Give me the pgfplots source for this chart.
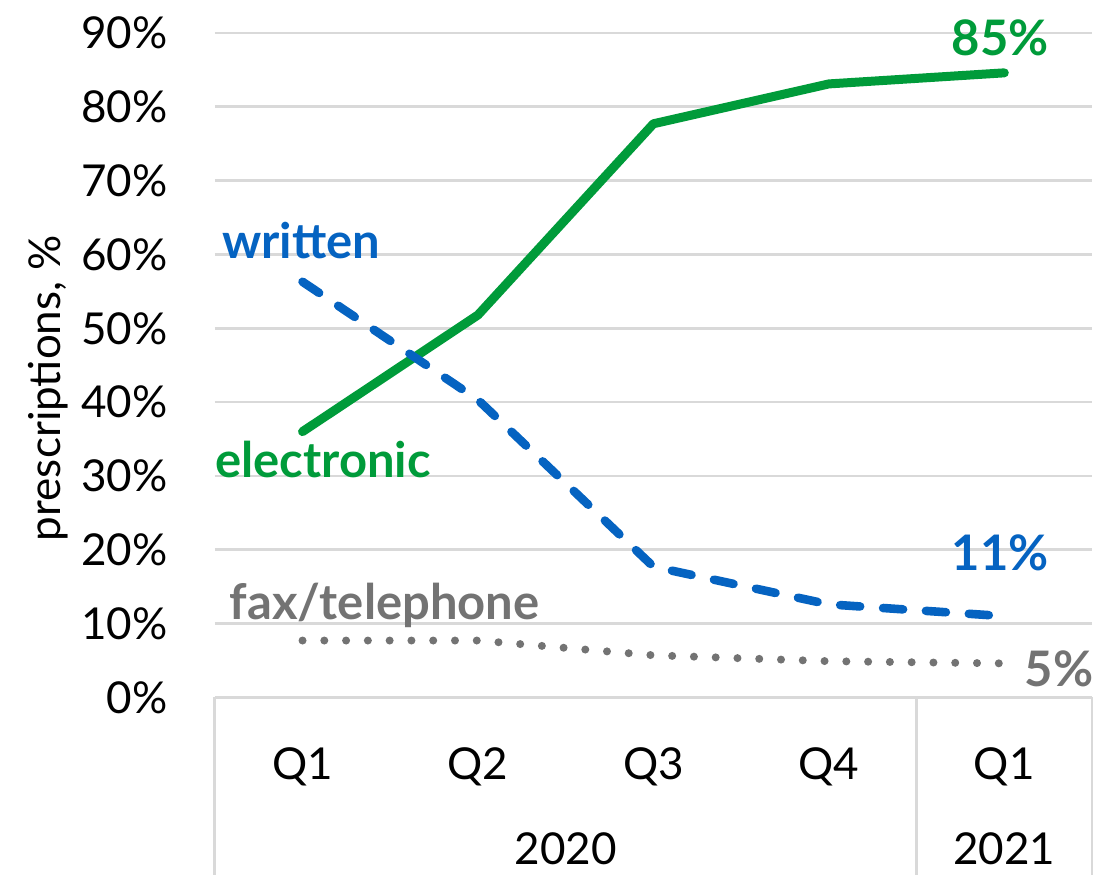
\documentclass[border=0pt]{standalone}
\usepackage{pgfplots}
\pgfplotsset{compat=1.18}
\usepackage{fontspec}
\setmainfont{Lato}
\definecolor{cgreen}{HTML}{009B3A}
\definecolor{cblue}{HTML}{0563C1}
\definecolor{cgray}{HTML}{737373}
\definecolor{gridgray}{HTML}{D9D9D9}
\newcommand{\bigf}{\fontsize{22}{26}\selectfont}
\newcommand{\boldf}{\fontsize{24.5}{28}\selectfont\bfseries}
\begin{document}
\begin{tikzpicture}
\useasboundingbox (-107.5pt,-89pt) rectangle (451.5pt,349pt);
\begin{axis}[at={(0,0)}, anchor=south west, scale only axis,
  width=439pt, height=332.5pt,
  xmin=-0.5, xmax=4.5, ymin=0, ymax=90,
  ytick={0,10,...,90}, xtick=\empty,
  yticklabel={\pgfmathprintnumber{\tick}\%},
  /pgf/number format/assume math mode=true,
  axis line style={draw=none}, major tick length=0pt,
  ymajorgrids, grid style={line width=1.4pt, color=gridgray},
  yticklabel style={font=\bigf, inner sep=0pt, anchor=east, xshift=-23.5pt},
  clip=false]
\addplot[cgreen, line width=4.5pt, line cap=round, line join=round] coordinates {(0,36.0) (1,51.8) (2,77.7) (3,83.1) (4,84.6)};
\addplot[cblue, line width=4.3pt, line cap=round, dash pattern=on 10pt off 11.5pt] coordinates {(0,56.3) (1,40.3) (2,17.7) (3,12.6) (4,11.0)};
\addplot[cgray, line width=4pt, line cap=round, dash pattern=on 0pt off 10.9pt] coordinates {(0,7.7) (1,7.7) (2,5.7) (3,4.9) (4,4.6)};
% labels
\node[anchor=base west, inner sep=0pt, font=\boldf, text=cblue] at (axis cs:-0.46,59.5) {written};
\node[anchor=base west, inner sep=0pt, font=\boldf, text=cgreen] at (axis cs:-0.5,29.8) {electronic};
\node[anchor=base west, inner sep=0pt, font=\boldf, text=cgray] at (axis cs:-0.416,10.6) {fax/telephone};
\node[anchor=base east, inner sep=0pt, font=\boldf, text=cgreen] at (axis cs:4.256,87.0) {85\%};
\node[anchor=base east, inner sep=0pt, font=\boldf, text=cblue] at (axis cs:4.256,17.2) {11\%};
\node[anchor=base east, inner sep=0pt, font=\boldf, text=cgray] at (axis cs:4.51,1.5) {5\%};
% y label
\node[rotate=90, font=\bigf, inner sep=0pt] at ([xshift=-83.5pt]axis cs:-0.5,41.9) {prescriptions, \%};
% category table
\draw[gridgray, line width=1.4pt] (axis cs:-0.5,0) -- ([yshift=-89pt]axis cs:-0.5,0);
\draw[gridgray, line width=1.4pt] (axis cs:3.5,0) -- ([yshift=-89pt]axis cs:3.5,0);
\draw[gridgray, line width=1.4pt] (axis cs:4.5,0) -- ([yshift=-89pt]axis cs:4.5,0);
\node[font=\bigf, inner sep=0pt] at ([yshift=-35pt]axis cs:0,0) {Q1};
\node[font=\bigf, inner sep=0pt] at ([yshift=-35pt]axis cs:1,0) {Q2};
\node[font=\bigf, inner sep=0pt] at ([yshift=-35pt]axis cs:2,0) {Q3};
\node[font=\bigf, inner sep=0pt] at ([yshift=-35pt]axis cs:3,0) {Q4};
\node[font=\bigf, inner sep=0pt] at ([yshift=-35pt]axis cs:4,0) {Q1};
\node[font=\bigf, inner sep=0pt] at ([yshift=-76pt]axis cs:1.5,0) {2020};
\node[font=\bigf, inner sep=0pt] at ([yshift=-76pt]axis cs:4,0) {2021};
\end{axis}
\end{tikzpicture}
\end{document}
